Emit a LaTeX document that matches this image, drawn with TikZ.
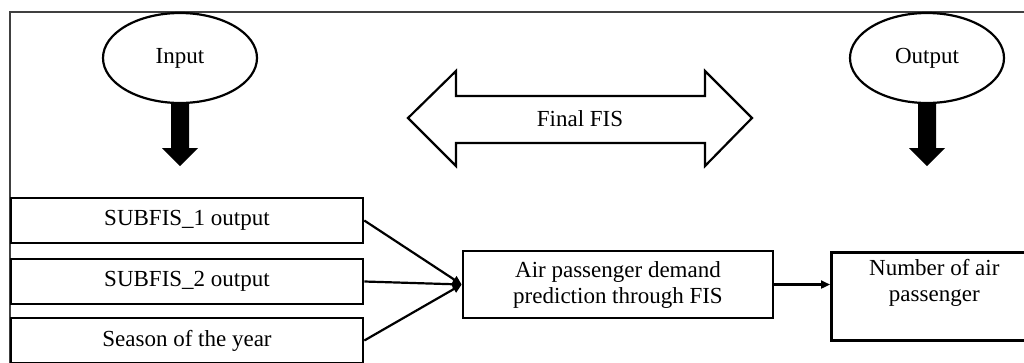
\documentclass[tikz,border=0pt]{standalone}
\usepackage{fontspec}
\setmainfont{Liberation Serif}
\usetikzlibrary{arrows.meta,shapes.geometric,positioning}

\begin{document}
\begin{tikzpicture}[x=1pt, y=-1pt,
  txt/.style={align=center, font=\fontsize{23}{26}\selectfont},
  box/.style={txt, draw, line width=2.6pt, inner sep=0pt},
  io/.style={txt, draw, ellipse, line width=2.2pt, minimum width=154pt, minimum height=90pt, inner sep=0pt},
  link/.style={line width=2.2pt, -{Triangle[length=9pt,width=8pt]}}]

\path[use as bounding box, clip] (0,0) rectangle (1024,362);

% frame
\draw[black!75, line width=1.2pt] (10,380) -- (10,12) -- (1040,12);

\node[io] (inp) at (180,58) {Input};
\node[io] (outp) at (927,58) {Output};

% fat arrows under the ellipses
\fill (inp.south) ++(-9,0) -- ++(0,44) -- ++(-9,0) -- ++(18,18) -- ++(18,-18) -- ++(-9,0) -- ++(0,-44) -- cycle;
\fill (outp.south) ++(-9,0) -- ++(0,44) -- ++(-9,0) -- ++(18,18) -- ++(18,-18) -- ++(-9,0) -- ++(0,-44) -- cycle;

% final FIS double arrow
\node[txt] (ffis) at (580,119) {Final FIS};
\draw[line width=2.2pt, line join=miter] (408,118) -- (456,71) -- (456,96) -- (705,96) -- (705,71)
  -- (752,118) -- (705,166) -- (705,143) -- (456,143) -- (456,166) -- cycle;

\node[box, minimum width=352pt, minimum height=45pt] (sub1) at (187,220.5) {SUBFIS\_1 output};
\node[box, minimum width=352pt, minimum height=45pt] (sub2) at (187,281.5) {SUBFIS\_2 output};
\node[box, minimum width=352pt, minimum height=45pt] (season) at (187,340.5) {Season of the year};

\node[box, minimum width=310pt, minimum height=67pt] (fis) at (618,284.5) {Air passenger demand\\prediction through FIS};
\node[box, minimum width=206pt, minimum height=88pt, anchor=north west] (nap) at (830,251) {};
\node[txt] (naptxt) at ([yshift=-32pt]nap.north) {Number of air\\passenger};

\draw[link] (sub1.east) -- (fis.west);
\draw[link] (sub2.east) -- (fis.west);
\draw[link] (season.east) -- (fis.west);
\draw[link] (fis.east) -- (fis.east -| nap.west);

\end{tikzpicture}
\end{document}
